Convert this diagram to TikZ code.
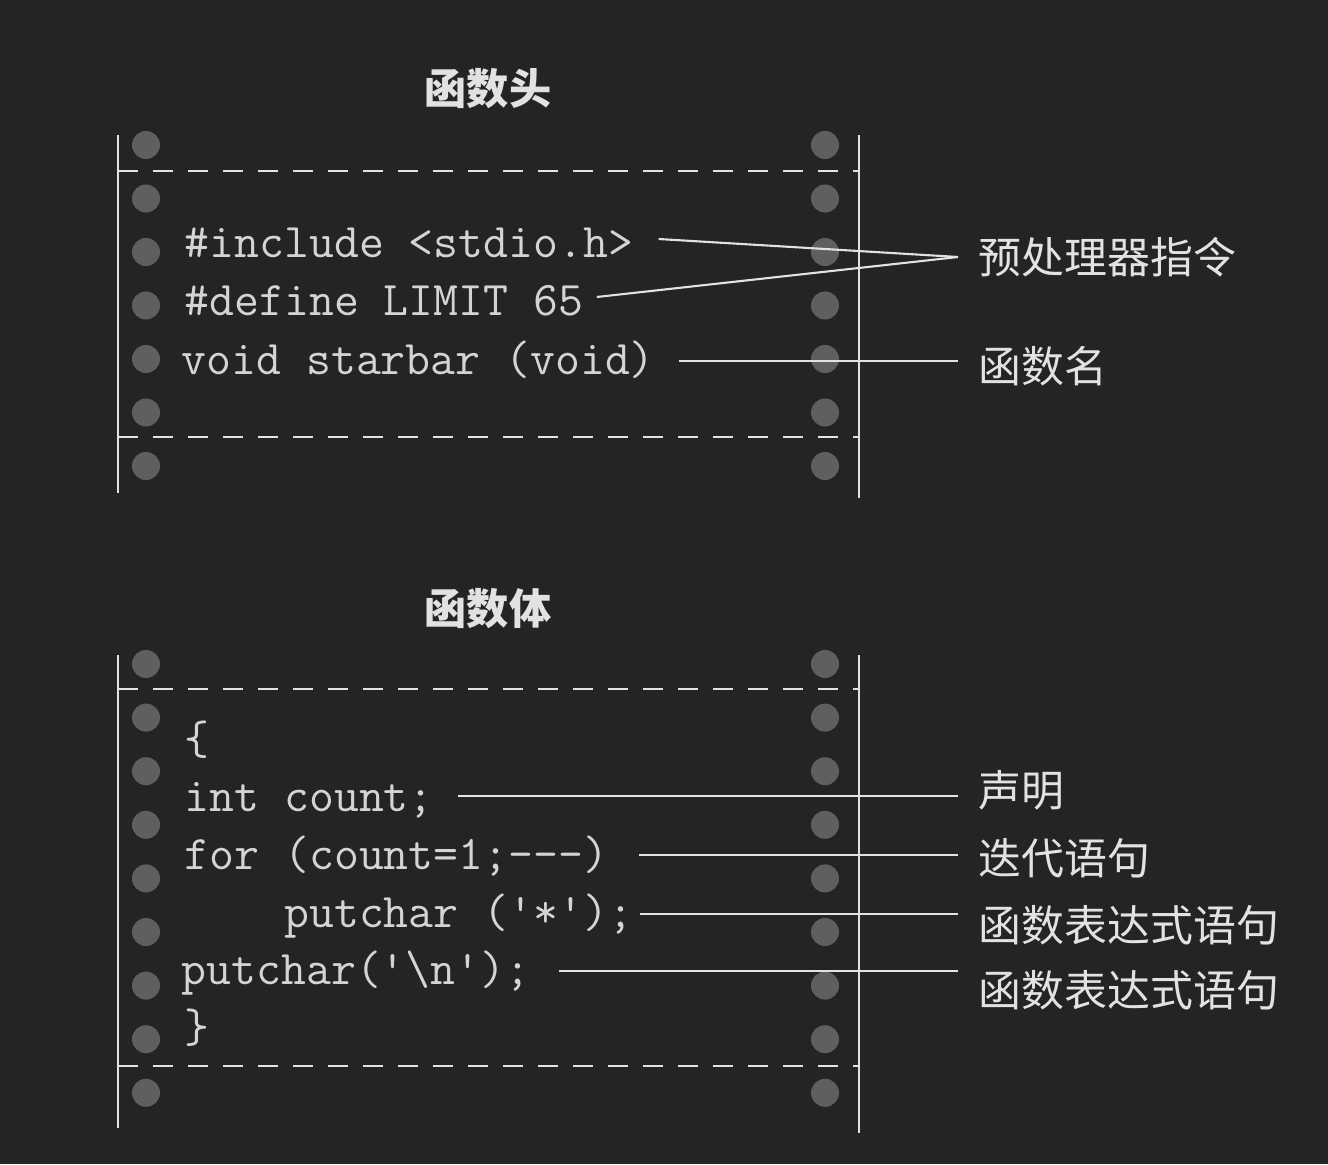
\documentclass[tikz,border=0pt]{standalone}
\usepackage{fontspec}
\newfontfamily\cjk{Noto Sans CJK SC}
\usetikzlibrary{calc}
\definecolor{bgcol}{HTML}{242424}
\definecolor{inkcol}{HTML}{E2E2E2}
\definecolor{dotcol}{HTML}{5F5F5F}
\definecolor{txtcol}{HTML}{D4D4D4}
\tikzset{
  code/.style={anchor=west, inner sep=0pt, text height=0.29cm, text depth=0pt,
    text=txtcol, font=\fontsize{13.75}{16}\selectfont\ttfamily},
  tag/.style={anchor=west, inner ysep=0pt, inner xsep=0.2cm, text height=0.33cm,
    text depth=0pt, text=inkcol, font=\fontsize{12.2}{14}\selectfont\cjk},
  head/.style={inner sep=0pt, text height=0.33cm, text depth=0pt, text=inkcol,
    font=\fontsize{12}{14}\selectfont\cjk\bfseries},
  conn/.style={inkcol, line width=0.6pt},
  edge/.style={inkcol, line width=0.6pt},
  fold/.style={inkcol, line width=0.8pt, dash pattern=on 0.2cm off 0.15cm}
}
\begin{document}
\begin{tikzpicture}[x=0.01cm, y=-0.01cm]
    \fill[bgcol] (0,0) rectangle (1328,1164);
    \useasboundingbox (0,0) rectangle (1328,1164);

    % Titles
    \node[head] (T1) at (488,88) {函数头};
    \node[head] (T2) at (488,608) {函数体};

    % Sprocket holes
    \foreach \i in {0,...,6}
      \foreach \x in {146,825}
        \fill[dotcol] (\x,145+53.5*\i) circle[radius=0.14cm];
    \foreach \i in {0,...,8}
      \foreach \x in {146,825}
        \fill[dotcol] (\x,664+53.6*\i) circle[radius=0.14cm];

    % Strip edges and folds
    \draw[edge] (118,135) -- (118,493);
    \draw[edge] (859,135) -- (859,498);
    \draw[edge] (118,655) -- (118,1128);
    \draw[edge] (859,655) -- (859,1133);
    \draw[fold] (118,171) -- (859,171);
    \draw[fold] (118,437) -- (859,437);
    \draw[fold] (118,689) -- (859,689);
    \draw[fold] (118,1066) -- (859,1066);

    % Code lines
    \node[code] (inc) at (184,243) {\#include <stdio.h>};
    \node[code] (def) at (184,301) {\#define LIMIT 65};
    \node[code] (fun) at (181,360) {void starbar (void)};
    \node[code] (ob)  at (184,740) {\{};
    \node[code] (var) at (184,797) {int count;};
    \node[code] (loop) at (184,855) {for (count=1;---)};
    \node[code] (put1) at (184,913) {\ \ \ \ putchar ('*');};
    \node[code] (put2) at (181,970) {putchar('\textbackslash n');};
    \node[code] (cb)  at (184,1028) {\}};

    % Labels
    \node[tag] (pre) at (958,257) {预处理器指令};
    \node[tag] (fn)  at (958,366) {函数名};
    \node[tag] (dec) at (958,790) {声明};
    \node[tag] (it)  at (958,858) {迭代语句};
    \node[tag] (ex1) at (958,925) {函数表达式语句};
    \node[tag] (ex2) at (958,990) {函数表达式语句};

    % Pointers
    \draw[conn] (inc.east) ++(25,-4) -- (pre.west);
    \draw[conn] (def.east) ++(13,-4) -- (pre.west);
    \draw[conn] (fun.east) ++(23,1) -- ($(fun.east -| fn.west)+(0,1)$);
    \draw[conn] (var.east) ++(24,-1) -- ($(var.east -| dec.west)+(0,-1)$);
    \draw[conn] (loop.east) ++(30,0) -- (loop.east -| it.west);
    \draw[conn] (put1.east) ++(6,1) -- ($(put1.east -| ex1.west)+(0,1)$);
    \draw[conn] (put2.east) ++(28,1) -- ($(put2.east -| ex2.west)+(0,1)$);

\end{tikzpicture}
\end{document}
